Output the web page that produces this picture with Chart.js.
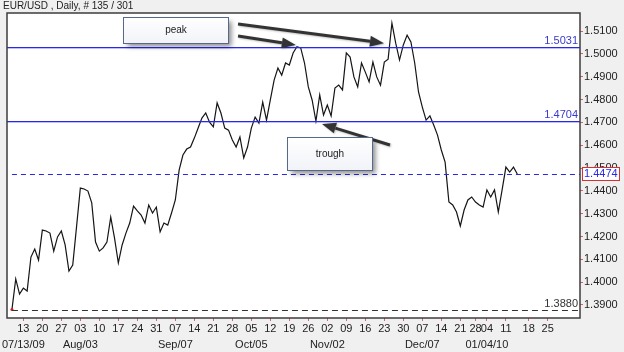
<!DOCTYPE html>
<html>
<head>
<meta charset="utf-8">
<title>EUR/USD Daily</title>
<script src="https://cdn.jsdelivr.net/npm/chart.js@4.4.1/dist/chart.umd.min.js"></script>
<style>
  html, body { margin: 0; padding: 0; background: #f0f0f0; }
  #wrap { width: 624px; height: 352px; position: relative; }
</style>
</head>
<body>
<div id="wrap"><canvas id="fx"></canvas></div>
<script>
const TITLE = 'EUR/USD , Daily, # 135 / 301';

// daily closes, bar 0 = 07/08/09
const CLOSES = [
  1.3880, 1.4014, 1.3948, 1.3974, 1.3961, 1.4110, 1.4145, 1.4097, 1.4228, 1.4224,
  1.4215, 1.4136, 1.4198, 1.4224, 1.4163, 1.4049, 1.4075, 1.4242, 1.4412, 1.4408,
  1.4399, 1.4347, 1.4176, 1.4136, 1.4150, 1.4176, 1.4285, 1.4193, 1.4084, 1.4163,
  1.4215, 1.4259, 1.4333, 1.4312, 1.4294, 1.4259, 1.4338, 1.4303, 1.4329, 1.4220,
  1.4259, 1.4250, 1.4303, 1.4360, 1.4491, 1.4557, 1.4583, 1.4592, 1.4631, 1.4675,
  1.4719, 1.4741, 1.4701, 1.4680, 1.4785, 1.4741, 1.4675, 1.4666, 1.4623, 1.4592,
  1.4636, 1.4544, 1.4592, 1.4675, 1.4723, 1.4697, 1.4789, 1.4710, 1.4798, 1.4885,
  1.4938, 1.4907, 1.4960, 1.4951, 1.5004, 1.5031, 1.5026, 1.4960, 1.4855, 1.4798,
  1.4706, 1.4820, 1.4732, 1.4776, 1.4728, 1.4850, 1.4863, 1.4842, 1.5004, 1.4986,
  1.4899, 1.4855, 1.4960, 1.4920, 1.4877, 1.4964, 1.4899, 1.4863, 1.4964, 1.4977,
  1.5135, 1.5047, 1.4973, 1.5039, 1.5082, 1.5052, 1.4960, 1.4833, 1.4767, 1.4710,
  1.4728, 1.4688, 1.4644, 1.4579, 1.4526, 1.4351, 1.4338, 1.4307, 1.4246, 1.4316,
  1.4360, 1.4373, 1.4351, 1.4338, 1.4329, 1.4404, 1.4373, 1.4404, 1.4307, 1.4404,
  1.4504, 1.4482, 1.4504, 1.4474
];

// weekly ticks: bar index of each Monday
const WEEK_BARS   = [3, 8, 13, 18, 23, 28, 33, 38, 43, 48, 53, 58, 63, 68, 73,
                     78, 83, 88, 93, 98, 103, 108, 113, 118, 122, 125, 130, 136, 141];
const WEEK_LABELS = ['13', '20', '27', '03', '10', '17', '24', '31', '07', '14', '21', '28', '05', '12', '19',
                     '26', '02', '09', '16', '23', '30', '07', '14', '21', '28', '04', '11', '18', '25'];
const MONTH_LABELS = ['07/13/09', '', '', 'Aug/03', '', '', '', '', 'Sep/07', '', '', '', 'Oct/05', '', '',
                      '', 'Nov/02', '', '', '', '', 'Dec/07', '', '', '', '01/04/10', '', '', ''];

const PRICE_TICKS = [1.39, 1.40, 1.41, 1.42, 1.43, 1.44, 1.45, 1.46, 1.47, 1.48, 1.49, 1.50, 1.51];

const LEVELS     = [1.5031, 1.4704];
const LAST_PRICE = 1.4474;
const LOW_PRICE  = 1.3880;

// callouts in (bar, price) units
const NOTES = [
  { text: 'peak',   x0: 29.2, y0: 1.5161, x1: 56.8, y1: 1.5047 },
  { text: 'trough', x0: 72.4, y0: 1.4636, x1: 94.7, y1: 1.4491 },
];
const ARROWS = [
  [59.5, 1.5131, 97.9, 1.5047],
  [59.5, 1.5078, 74.7, 1.5039],
  [99.5, 1.4601, 81.6, 1.4693],
];

const FONT = 'Liberation Sans, Arial, sans-serif';
const BLUE = '#2828e8';

function arrow(ctx, x0, y0, x1, y1) {
  const a = Math.atan2(y1 - y0, x1 - x0);
  const len = 14, half = 5.5;
  const bx = x1 - Math.cos(a) * len, by = y1 - Math.sin(a) * len;
  ctx.beginPath();
  ctx.moveTo(x0, y0);
  ctx.lineTo(bx, by);
  ctx.stroke();
  ctx.beginPath();
  ctx.moveTo(x1, y1);
  ctx.lineTo(bx + Math.sin(a) * half, by - Math.cos(a) * half);
  ctx.lineTo(bx - Math.sin(a) * half, by + Math.cos(a) * half);
  ctx.closePath();
  ctx.fill();
}

const decor = {
  id: 'decor',
  beforeDraw(chart) {
    const { ctx, chartArea: a } = chart;
    ctx.save();
    ctx.fillStyle = '#f0f0f0';
    ctx.fillRect(0, 0, chart.width, chart.height);
    ctx.fillStyle = '#ffffff';
    ctx.fillRect(a.left, a.top, a.right - a.left, a.bottom - a.top);
    ctx.restore();
  },
  afterDatasetsDraw(chart) {
    const { ctx, chartArea: a, scales: { x, y } } = chart;
    ctx.save();
    ctx.font = '11px ' + FONT;
    ctx.textAlign = 'right';
    ctx.textBaseline = 'bottom';
    LEVELS.forEach(v => {
      const py = Math.round(y.getPixelForValue(v));
      ctx.fillStyle = BLUE;
      ctx.fillRect(a.left, py, a.right - a.left, 1.3);
      ctx.fillStyle = '#3a3acc';
      ctx.fillText(v.toFixed(4), a.right - 2, py - 1);
    });
    const x0 = x.getPixelForValue(0);
    ctx.lineWidth = 1;
    let py = Math.round(y.getPixelForValue(LAST_PRICE)) + 0.5;
    ctx.setLineDash([5, 4]);
    ctx.strokeStyle = BLUE;
    ctx.beginPath();
    ctx.moveTo(x0, py);
    ctx.lineTo(a.right, py);
    ctx.stroke();
    py = Math.round(y.getPixelForValue(LOW_PRICE)) + 0.5;
    ctx.setLineDash([6, 4]);
    ctx.strokeStyle = '#333333';
    ctx.beginPath();
    ctx.moveTo(x0, py);
    ctx.lineTo(a.right, py);
    ctx.stroke();
    ctx.setLineDash([]);
    ctx.fillStyle = '#333333';
    ctx.fillText(LOW_PRICE.toFixed(4), a.right - 2, py - 1);
    ctx.restore();
  },
  afterDraw(chart) {
    const { ctx, chartArea: a, scales: { x, y } } = chart;
    ctx.save();
    // frame
    ctx.strokeStyle = '#3c3c3c';
    ctx.lineWidth = 1.5;
    ctx.strokeRect(a.left, a.top, a.right - a.left, a.bottom - a.top);

    // arrows
    ctx.strokeStyle = '#333333';
    ctx.fillStyle = '#333333';
    ctx.lineWidth = 3;
    ctx.shadowColor = 'rgba(0,0,0,0.25)';
    ctx.shadowBlur = 2;
    ctx.shadowOffsetX = 1;
    ctx.shadowOffsetY = 1;
    ARROWS.forEach(([bx0, p0, bx1, p1]) => {
      arrow(ctx, x.getPixelForValue(bx0), y.getPixelForValue(p0),
                 x.getPixelForValue(bx1), y.getPixelForValue(p1));
    });

    // callout boxes
    NOTES.forEach(n => {
      const l = Math.round(x.getPixelForValue(n.x0)) + 0.5;
      const r = Math.round(x.getPixelForValue(n.x1)) + 0.5;
      const t = Math.round(y.getPixelForValue(n.y0)) + 0.5;
      const b = Math.round(y.getPixelForValue(n.y1)) + 0.5;
      ctx.shadowColor = 'rgba(0,0,0,0.45)';
      ctx.shadowBlur = 5;
      ctx.shadowOffsetX = 3;
      ctx.shadowOffsetY = 3;
      const g = ctx.createLinearGradient(0, t, 0, b);
      g.addColorStop(0, '#ffffff');
      g.addColorStop(1, '#f1f3f8');
      ctx.fillStyle = g;
      ctx.fillRect(l, t, r - l, b - t);
      ctx.shadowColor = 'transparent';
      ctx.strokeStyle = '#55698a';
      ctx.lineWidth = 1;
      ctx.strokeRect(l, t, r - l, b - t);
      ctx.fillStyle = '#222222';
      ctx.font = '10px ' + FONT;
      ctx.textAlign = 'center';
      ctx.textBaseline = 'middle';
      ctx.fillText(n.text, (l + r) / 2, (t + b) / 2);
    });

    // last price tag on the axis
    const py = y.getPixelForValue(LAST_PRICE);
    ctx.fillStyle = '#ffffff';
    ctx.fillRect(a.right + 2, py - 7, 37, 14);
    ctx.strokeStyle = '#d83030';
    ctx.lineWidth = 1;
    ctx.strokeRect(a.right + 2.5, Math.round(py) - 6.5, 37, 13);
    ctx.fillStyle = BLUE;
    ctx.font = '11px ' + FONT;
    ctx.textAlign = 'left';
    ctx.textBaseline = 'middle';
    ctx.fillText(LAST_PRICE.toFixed(4), a.right + 4, py);

    // title
    ctx.fillStyle = '#222222';
    ctx.font = '10px ' + FONT;
    ctx.textBaseline = 'middle';
    ctx.fillText(TITLE, 3, 6);
    ctx.restore();
  }
};

new Chart(document.getElementById('fx'), {
  type: 'line',
  data: {
    datasets: [{
      data: CLOSES.map((c, i) => ({ x: i, y: c })),
      borderColor: '#151515',
      borderWidth: 1.2,
      pointRadius: ctx => ctx.dataIndex === 0 ? 1.5 : 0,
      pointBackgroundColor: '#d02020',
      pointBorderWidth: 0,
      tension: 0,
    }]
  },
  options: {
    responsive: true,
    maintainAspectRatio: false,
    animation: false,
    layout: { padding: { left: 7, top: 13, right: 0, bottom: 0 } },
    plugins: { legend: { display: false }, tooltip: { enabled: false } },
    scales: {
      x: {
        type: 'linear',
        min: -1.3,
        max: 149.5,
        afterBuildTicks: s => { s.ticks = WEEK_BARS.map(v => ({ value: v })); },
        afterFit: s => { s.height = 34; },
        grid: { drawOnChartArea: false, drawTicks: true, tickLength: 3, tickColor: '#e06060' },
        border: { display: false },
        ticks: {
          autoSkip: false,
          maxRotation: 0,
          padding: 0,
          color: '#222222',
          font: { family: FONT, size: 11, lineHeight: 1.45 },
          callback: (v, i) => MONTH_LABELS[i] ? [WEEK_LABELS[i], MONTH_LABELS[i]] : WEEK_LABELS[i],
        }
      },
      y: {
        position: 'right',
        min: 1.3843,
        max: 1.5179,
        afterBuildTicks: s => { s.ticks = PRICE_TICKS.map(v => ({ value: v })); },
        afterFit: s => { s.width = 44; },
        grid: { drawOnChartArea: false, drawTicks: true, tickLength: 3, tickColor: '#e06060' },
        border: { display: false },
        ticks: {
          padding: 1,
          color: '#222222',
          font: { family: FONT, size: 11 },
          callback: v => v.toFixed(4),
        }
      }
    }
  },
  plugins: [decor]
});
</script>
</body>
</html>
